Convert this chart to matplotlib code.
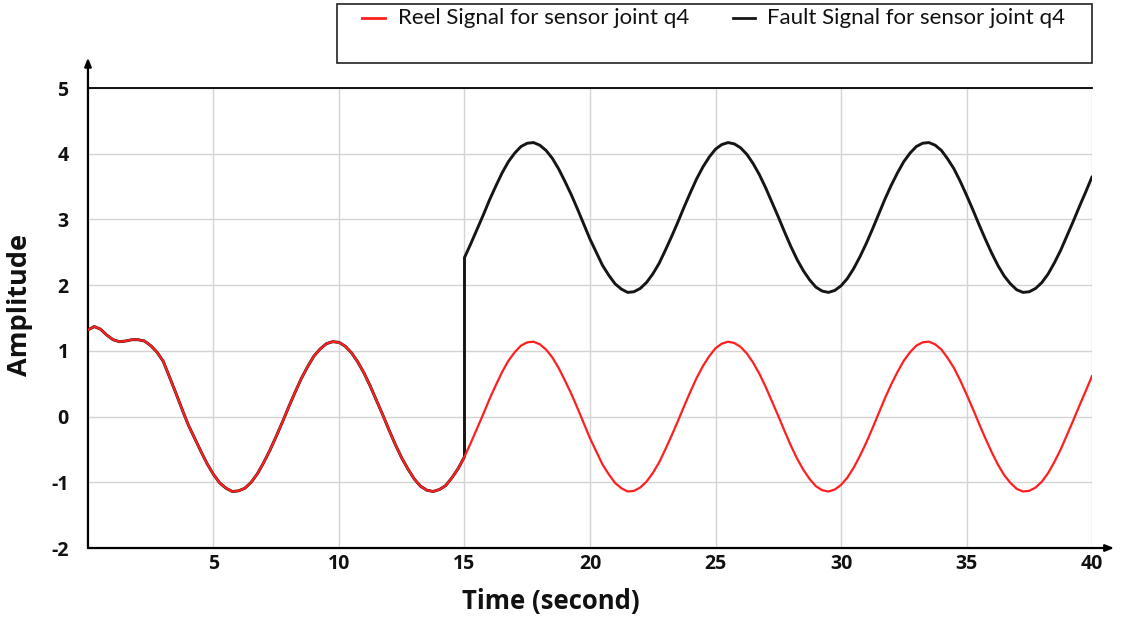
import numpy as np
import matplotlib
matplotlib.use("Agg")
import matplotlib.pyplot as plt
from matplotlib.lines import Line2D
from matplotlib.patches import Rectangle

# ---- data (sampled every 0.25 s) -------------------------------------
t_step = 0.25

# real sensor signal of joint q4, 0 .. 40 s
real_signal = [
    1.32, 1.37, 1.33, 1.24, 1.17, 1.14, 1.15, 1.17,
    1.17, 1.15, 1.08, 0.98, 0.84, 0.60, 0.36, 0.11,
    -0.13, -0.33, -0.53, -0.72, -0.88, -1.01, -1.09, -1.14,
    -1.13, -1.09, -1.00, -0.87, -0.70, -0.51, -0.30, -0.08,
    0.15, 0.37, 0.58, 0.76, 0.92, 1.03, 1.11, 1.14,
    1.13, 1.07, 0.97, 0.83, 0.66, 0.46, 0.24, 0.02,
    -0.21, -0.43, -0.63, -0.80, -0.95, -1.06, -1.12, -1.14,
    -1.11, -1.05, -0.93, -0.79, -0.61, -0.40, -0.18, 0.04,
    0.27, 0.48, 0.68, 0.85, 0.98, 1.08, 1.13, 1.14,
    1.10, 1.02, 0.90, 0.74, 0.55, 0.35, 0.13, -0.10,
    -0.33, -0.53, -0.73, -0.88, -1.01, -1.09, -1.14, -1.13,
    -1.08, -0.99, -0.86, -0.70, -0.50, -0.29, -0.07, 0.16,
    0.38, 0.59, 0.77, 0.92, 1.04, 1.11, 1.14, 1.12,
    1.06, 0.96, 0.82, 0.65, 0.45, 0.23, 0.01, -0.22,
    -0.44, -0.64, -0.81, -0.95, -1.06, -1.12, -1.14, -1.11,
    -1.04, -0.93, -0.78, -0.60, -0.40, -0.18, 0.05, 0.28,
    0.49, 0.68, 0.85, 0.98, 1.08, 1.13, 1.14, 1.10,
    1.02, 0.89, 0.74, 0.55, 0.34, 0.12, -0.11, -0.33,
    -0.54, -0.73, -0.89, -1.01, -1.10, -1.14, -1.13, -1.08,
    -0.99, -0.86, -0.69, -0.50, -0.28, -0.06, 0.17, 0.39,
    0.62,
]

# faulty sensor reading once the fault appears (15 .. 40 s)
fault_time = 15.0
fault_signal = [
    2.42, 2.63, 2.85, 3.07,
    3.30, 3.51, 3.71, 3.88, 4.01, 4.11, 4.16, 4.17,
    4.13, 4.05, 3.93, 3.77, 3.58, 3.38, 3.16, 2.93,
    2.70, 2.50, 2.30, 2.15, 2.02, 1.94, 1.89, 1.90,
    1.95, 2.04, 2.17, 2.33, 2.53, 2.74, 2.96, 3.19,
    3.41, 3.62, 3.80, 3.95, 4.07, 4.14, 4.17, 4.15,
    4.09, 3.99, 3.85, 3.68, 3.48, 3.26, 3.04, 2.81,
    2.59, 2.39, 2.22, 2.08, 1.97, 1.91, 1.89, 1.92,
    1.99, 2.10, 2.25, 2.43, 2.63, 2.85, 3.08, 3.31,
    3.52, 3.71, 3.88, 4.01, 4.11, 4.16, 4.17, 4.13,
    4.05, 3.92, 3.77, 3.58, 3.37, 3.15, 2.92, 2.70,
    2.49, 2.30, 2.14, 2.02, 1.93, 1.89, 1.90, 1.95,
    2.04, 2.17, 2.34, 2.53, 2.75, 2.97, 3.20, 3.42,
    3.65,
]

x_ticks = [5, 10, 15, 20, 25, 30, 35, 40]
x_tick_labels = ["5", "10", "15", "20", "25", "30", "35", "40"]
y_ticks = [-2, -1, 0, 1, 2, 3, 4, 5]
y_tick_labels = ["-2", "-1", "0", "1", "2", "3", "4", "5"]

legend_labels = ["Reel Signal for sensor joint q4",
                 "Fault Signal for sensor joint q4"]

# ---- series assembly --------------------------------------------------
y_real = np.array(real_signal)
t_real = np.arange(len(y_real)) * t_step

t_fault = fault_time + np.arange(len(fault_signal)) * t_step
pre = t_real <= fault_time
# before the fault the faulty channel reads the real value, then jumps
t_fault_all = np.concatenate([t_real[pre], t_fault])
y_fault_all = np.concatenate([y_real[pre], fault_signal])

# ---- figure -----------------------------------------------------------
RED = "#ff1f1f"
BLACK = "#151515"
GRID = "#d4d4d4"
TICK_FONT = dict(family="Open Sans", weight="bold", size=14)

fig = plt.figure(figsize=(11.25, 6.2), dpi=100)
ax = fig.add_axes([0.0782, 0.1161, 0.8925, 0.7419])

ax.plot(t_fault_all, y_fault_all, color=BLACK, lw=2.1, zorder=3,
        solid_joinstyle="round", solid_capstyle="round")
ax.plot(t_real, y_real, color=RED, lw=1.6, zorder=4,
        solid_joinstyle="round", solid_capstyle="round")

ax.set_xlim(0, 40)
ax.set_ylim(-2, 5)
ax.set_xticks(x_ticks)
ax.set_xticklabels(x_tick_labels, fontdict=TICK_FONT, color="#111111")
ax.set_yticks(y_ticks)
ax.set_yticklabels(y_tick_labels, fontdict=TICK_FONT, color="#111111")
ax.tick_params(axis="both", length=0)
ax.tick_params(axis="x", pad=4)
ax.tick_params(axis="y", pad=14)

ax.grid(True, color=GRID, lw=1.0, zorder=0)
ax.set_axisbelow(True)

for side in ("left", "bottom", "right"):
    ax.spines[side].set_visible(False)
ax.spines["top"].set_color("black")
ax.spines["top"].set_linewidth(1.3)

# axis lines with arrow heads
arrow_style = dict(arrowstyle="-|>,head_length=0.5,head_width=0.2",
                   lw=1.6, color="black", shrinkA=0, shrinkB=0)
ax.annotate("", xy=(0, 1.066), xytext=(0, 0), xycoords="axes fraction",
            arrowprops=arrow_style)
ax.annotate("", xy=(1.022, 0), xytext=(0, 0), xycoords="axes fraction",
            arrowprops=arrow_style)

ax.set_xlabel("Time (second)", fontsize=18.5, fontweight="bold",
              fontfamily="Open Sans", color="#111111")
ax.xaxis.set_label_coords(0.461, -0.087)
ax.set_ylabel("Amplitude", fontsize=19.5, fontweight="bold",
              fontfamily="Open Sans", color="#111111")
ax.yaxis.set_label_coords(-0.0548, 0.528)

# legend box above the plot area
W, H = 1125.0, 620.0
fig.add_artist(Rectangle((337 / W, 1 - 63 / H), (1092 - 337) / W, 59 / H,
                         transform=fig.transFigure, fill=False,
                         edgecolor="#222222", lw=1.2))
legend_y = 1 - 18 / H
for (x0, x1, xt), col, text in zip([(362, 385, 398), (733, 755, 767)],
                                   [RED, BLACK], legend_labels):
    fig.add_artist(Line2D([x0 / W, x1 / W], [legend_y, legend_y],
                          transform=fig.transFigure, color=col, lw=2.0))
    fig.text(xt / W, legend_y, text, fontsize=16, fontfamily="Lato",
             va="center", ha="left", color="#111111")

fig.savefig("out.png", dpi=100)
